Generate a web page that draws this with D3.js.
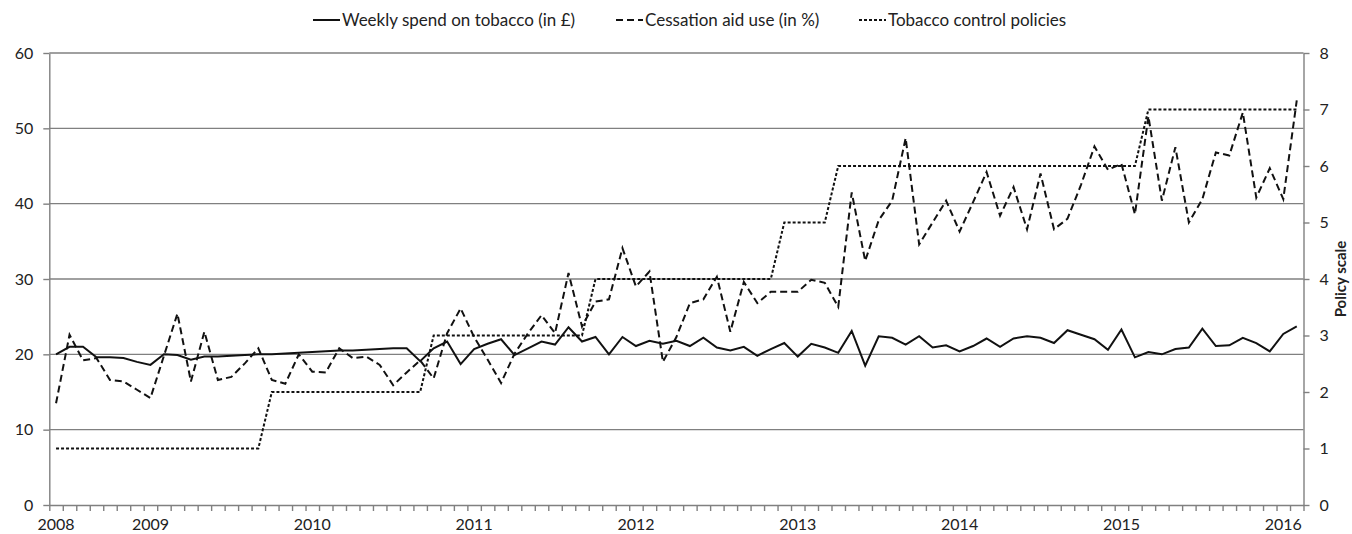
<!DOCTYPE html>
<html>
<head>
<meta charset="utf-8">
<script src="https://cdn.jsdelivr.net/npm/d3@7"></script>
<style>
  html, body { margin: 0; padding: 0; background: #fff; }
  svg { display: block; }
  text { font-family: Lato, "Open Sans", sans-serif; fill: #222; }
</style>
</head>
<body>
<svg id="chart" width="1352" height="534"></svg>
<script>
// ---- data (monthly, June 2008 – February 2016) ----
const categories = [
  "2008-06","2008-07","2008-08","2008-09","2008-10","2008-11","2008-12",
  "2009-01","2009-02","2009-03","2009-04","2009-05","2009-06","2009-07","2009-08","2009-09","2009-10","2009-11","2009-12",
  "2010-01","2010-02","2010-03","2010-04","2010-05","2010-06","2010-07","2010-08","2010-09","2010-10","2010-11","2010-12",
  "2011-01","2011-02","2011-03","2011-04","2011-05","2011-06","2011-07","2011-08","2011-09","2011-10","2011-11","2011-12",
  "2012-01","2012-02","2012-03","2012-04","2012-05","2012-06","2012-07","2012-08","2012-09","2012-10","2012-11","2012-12",
  "2013-01","2013-02","2013-03","2013-04","2013-05","2013-06","2013-07","2013-08","2013-09","2013-10","2013-11","2013-12",
  "2014-01","2014-02","2014-03","2014-04","2014-05","2014-06","2014-07","2014-08","2014-09","2014-10","2014-11","2014-12",
  "2015-01","2015-02","2015-03","2015-04","2015-05","2015-06","2015-07","2015-08","2015-09","2015-10","2015-11","2015-12",
  "2016-01","2016-02"
];

// Weekly spend on tobacco (in £) – left axis
const weeklySpend = [
  20.0,21.0,21.0,19.6,19.6,19.5,19.0,
  18.6,20.0,19.9,19.3,19.7,19.7,19.8,19.9,20.0,20.0,20.1,20.2,
  20.3,20.4,20.5,20.5,20.6,20.7,20.8,20.8,19.1,20.8,21.7,18.7,
  20.7,21.4,22.0,19.9,20.8,21.7,21.3,23.6,21.7,22.3,20.0,22.3,
  21.1,21.8,21.4,21.8,21.1,22.2,20.9,20.5,21.0,19.8,20.7,21.5,
  19.7,21.4,20.9,20.2,23.1,18.5,22.4,22.2,21.3,22.4,20.9,21.2,
  20.4,21.1,22.1,21.0,22.1,22.4,22.2,21.5,23.2,22.6,22.0,20.6,
  23.3,19.6,20.3,20.0,20.7,20.9,23.4,21.1,21.2,22.2,21.5,20.4,
  22.7,23.7
];

// Cessation aid use (in %) – left axis
const cessationAid = [
  13.5,22.6,19.2,19.5,16.6,16.4,15.3,
  14.2,19.8,25.4,16.4,23.0,16.6,17.0,18.8,20.8,16.6,16.1,20.0,
  17.7,17.6,20.8,19.5,19.7,18.6,15.9,17.6,19.2,16.8,22.8,26.1,
  22.3,19.3,16.2,20.1,22.8,25.2,22.8,30.8,23.7,27.0,27.3,34.1,
  29.0,31.0,19.0,22.3,26.8,27.3,30.3,23.0,29.6,26.8,28.3,28.3,
  28.3,29.9,29.5,26.3,41.5,32.4,37.8,40.4,48.7,34.6,37.5,40.4,
  36.3,40.2,44.2,38.4,42.2,36.6,44.0,36.6,38.0,42.5,47.6,44.5,
  45.3,38.6,51.6,40.4,47.5,37.5,40.6,46.8,46.4,52.1,40.8,44.7,
  40.6,53.7
];

// Tobacco control policies – right axis (policy scale)
const policyScale = [
  1,1,1,1,1,1,1,
  1,1,1,1,1,1,1,1,1,2,2,2,
  2,2,2,2,2,2,2,2,2,3,3,3,
  3,3,3,3,3,3,3,3,3,4,4,4,
  4,4,4,4,4,4,4,4,4,4,4,5,
  5,5,5,6,6,6,6,6,6,6,6,6,
  6,6,6,6,6,6,6,6,6,6,6,6,
  6,6,7,7,7,7,7,7,7,7,7,7,
  7,7
];

const yearLabels = ["2008","2009","2010","2011","2012","2013","2014","2015","2016"];
const yearCategories = ["2008-06","2009-01","2010-01","2011-01","2012-01","2013-01","2014-01","2015-01","2016-01"];
const leftTicks = [0,10,20,30,40,50,60];
const rightTicks = [0,1,2,3,4,5,6,7,8];
const legendLabels = ["Weekly spend on tobacco (in £)","Cessation aid use (in %)","Tobacco control policies"];

// ---- layout ----
const L = 49.3, R = 1303.5, T = 53, B = 505;
const svg = d3.select("#chart");
const gridColor = "#808080";
const axisColor = "#808080";

const x = d3.scaleBand().domain(categories).range([L, R]).padding(0);
const xBound = d3.scaleLinear().domain([0, categories.length]).range([L, R]);
const yL = d3.scaleLinear().domain([0, 60]).range([B, T]);
const yR = d3.scaleLinear().domain([0, 8]).range([B, T]);
const cx = c => x(c) + x.bandwidth() / 2;

// gridlines
svg.append("g").selectAll("line").data(leftTicks.filter(d => d > 0)).join("line")
  .attr("x1", L).attr("x2", R)
  .attr("y1", d => yL(d)).attr("y2", d => yL(d))
  .attr("stroke", gridColor).attr("stroke-width", 1.4);

// left axis
const gLeft = svg.append("g").attr("transform", `translate(${L},0)`)
  .call(d3.axisLeft(yL).tickValues(leftTicks).tickSize(6).tickSizeOuter(0).tickPadding(10));
gLeft.select(".domain").attr("stroke", axisColor).attr("stroke-width", 1.4);
gLeft.selectAll(".tick line").attr("stroke", axisColor).attr("stroke-width", 1.4);
gLeft.selectAll(".tick text").style("font-size", "16px").attr("fill", "#222");

// right axis
const gRight = svg.append("g").attr("transform", `translate(${R},0)`)
  .call(d3.axisRight(yR).tickValues(rightTicks).tickSize(6).tickSizeOuter(0).tickPadding(10));
gRight.select(".domain").attr("stroke", axisColor).attr("stroke-width", 1.4);
gRight.selectAll(".tick line").attr("stroke", axisColor).attr("stroke-width", 1.4);
gRight.selectAll(".tick text").style("font-size", "16px").attr("fill", "#222");

svg.append("text")
  .attr("transform", `translate(1346,${(T + B) / 2}) rotate(-90)`)
  .attr("text-anchor", "middle")
  .style("font-size", "15px").style("font-weight", "bold")
  .text("Policy scale");

// bottom axis: tick marks at category boundaries
const gBottom = svg.append("g").attr("transform", `translate(0,${B})`)
  .call(d3.axisBottom(xBound).tickValues(d3.range(categories.length + 1)).tickSize(6).tickSizeOuter(0).tickFormat(""));
gBottom.select(".domain").attr("stroke", axisColor).attr("stroke-width", 1.4);
gBottom.selectAll(".tick line").attr("stroke", axisColor).attr("stroke-width", 1.4);

// year labels centered in their categories
const gYears = svg.append("g").attr("transform", `translate(0,${B})`)
  .call(d3.axisBottom(x).tickValues(yearCategories).tickSize(0).tickPadding(14)
    .tickFormat((d) => yearLabels[yearCategories.indexOf(d)]));
gYears.select(".domain").remove();
gYears.selectAll(".tick text").style("font-size", "16px").attr("fill", "#222");

// ---- series ----
const lineL = d3.line().x((d, i) => cx(categories[i])).y(d => yL(d));
const lineR = d3.line().x((d, i) => cx(categories[i])).y(d => yR(d));

svg.append("path").datum(policyScale)
  .attr("d", lineR).attr("fill", "none")
  .attr("stroke", "#111").attr("stroke-width", 2).attr("stroke-dasharray", "3,2");

svg.append("path").datum(cessationAid)
  .attr("d", lineL).attr("fill", "none")
  .attr("stroke", "#111").attr("stroke-width", 2).attr("stroke-dasharray", "7,4");

svg.append("path").datum(weeklySpend)
  .attr("d", lineL).attr("fill", "none")
  .attr("stroke", "#111").attr("stroke-width", 2).attr("stroke-linejoin", "miter");

// ---- legend ----
const legendItems = [
  { label: legendLabels[0], x: 313, dash: null },
  { label: legendLabels[1], x: 616, dash: "7,4" },
  { label: legendLabels[2], x: 859, dash: "3,2" }
];
const lg = svg.append("g");
legendItems.forEach(it => {
  lg.append("line").attr("x1", it.x).attr("x2", it.x + 27).attr("y1", 20).attr("y2", 20)
    .attr("stroke", "#111").attr("stroke-width", 2)
    .attr("stroke-dasharray", it.dash);
  lg.append("text").attr("x", it.x + 29).attr("y", 20).attr("dy", "0.35em")
    .style("font-size", "17px").text(it.label);
});
</script>
</body>
</html>
